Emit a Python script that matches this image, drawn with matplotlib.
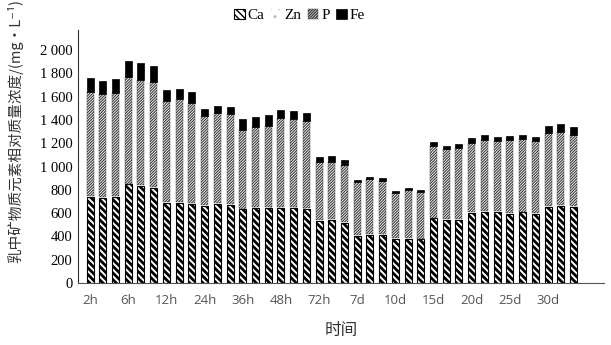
import numpy as np
import matplotlib
matplotlib.use("Agg")
from matplotlib import pyplot as plt
from matplotlib.ticker import FuncFormatter

groups = ['2h', '6h', '12h', '24h', '36h', '48h', '72h', '7d', '10d', '15d', '20d', '25d', '30d']

ca = [741, 732, 741, 847, 833, 818, 687, 687, 681, 664, 678, 672, 632, 644, 647,
      647, 647, 635, 535, 541, 518, 403, 415, 412, 378, 381, 375, 555, 543, 543,
      604, 612, 609, 595, 607, 592, 655, 664, 655]
zn = [6] * 39
p = [890, 882, 881, 913, 904, 899, 872, 884, 861, 764, 773, 773, 675, 686, 697,
     766, 755, 750, 495, 489, 486, 455, 472, 460, 391, 408, 400, 618, 599, 607,
     594, 609, 604, 626, 623, 624, 624, 626, 609]
fe = [120, 117, 123, 140, 143, 143, 92, 91, 94, 60, 65, 57, 95, 92, 92,
      66, 66, 66, 43, 51, 43, 20, 17, 21, 17, 20, 20, 34, 31, 37,
      38, 41, 37, 35, 32, 34, 63, 66, 72]

cjk = ['Noto Sans CJK SC', 'DejaVu Sans']
serif = ['Liberation Serif', 'DejaVu Serif']

fig = plt.figure(figsize=(6.11, 3.45), dpi=100)
ax = fig.add_axes([0.1277, 0.1797, 0.8608, 0.7333])

x = np.arange(len(ca))
w = 0.55
ca_a = np.array(ca)
zn_a = np.array(zn)
p_a = np.array(p)

def hbar(bottom, vals, lw_hatch, **kw):
    with plt.rc_context({'hatch.linewidth': lw_hatch}):
        bars = ax.bar(x, vals, w, bottom=bottom, **kw)
    for b in bars:
        if hasattr(b, 'set_hatch_linewidth'):
            b.set_hatch_linewidth(lw_hatch)
    return bars

b_ca = hbar(0, ca, 2.0, color='white', edgecolor='black', hatch='\\' * 5, linewidth=0.8)
b_zn = hbar(ca_a, zn, 0.5, color='white', edgecolor='#bbbbbb', hatch='..', linewidth=0)
b_p = hbar(ca_a + zn_a, p, 0.8, color='white', edgecolor='#3a3a3a', hatch='/' * 12, linewidth=0.3)
b_fe = ax.bar(x, fe, w, bottom=ca_a + zn_a + p_a, color='black', edgecolor='black', linewidth=0.5)

ax.set_xlim(-0.95, 40.4)
ax.set_ylim(0, 2172)
ax.set_yticks(np.arange(0, 2001, 200))
ax.yaxis.set_major_formatter(FuncFormatter(lambda v, pos: f'{int(v):,}'.replace(',', ' ')))
ax.set_xticks(x[::3])
ax.set_xticklabels(groups, color='#555555', fontsize=9.5, fontfamily=['Open Sans', 'DejaVu Sans'])
for lab in ax.get_yticklabels():
    lab.set_fontfamily(serif)
    lab.set_fontsize(10.5)
ax.tick_params(axis='both', length=0)
ax.tick_params(axis='x', pad=8)
ax.tick_params(axis='y', pad=4)

for s in ['top', 'right']:
    ax.spines[s].set_visible(False)
ax.spines['left'].set_color('#333333')
ax.spines['bottom'].set_color('#555555')
ax.spines['left'].set_linewidth(0.8)
ax.spines['bottom'].set_linewidth(0.8)

ax.set_xlabel('时间', fontfamily=cjk, fontsize=12, color='#333333', labelpad=11)
ax.set_ylabel('乳中矿物质元素相对质量浓度/(mg·L⁻¹)', fontfamily=cjk, fontsize=10.5,
              color='#333333')
ax.yaxis.set_label_coords(-0.105, 0.60)

fig.legend([b_ca[0], b_zn[0], b_p[0], b_fe[0]], ['Ca', 'Zn', 'P', 'Fe'], loc='center',
           bbox_to_anchor=(0.49, 0.955), ncol=4, frameon=False, prop={'family': serif, 'size': 11},
           handlelength=0.7, handleheight=0.7, handletextpad=0.2, columnspacing=0.4)

fig.savefig('out.png', dpi=100)
